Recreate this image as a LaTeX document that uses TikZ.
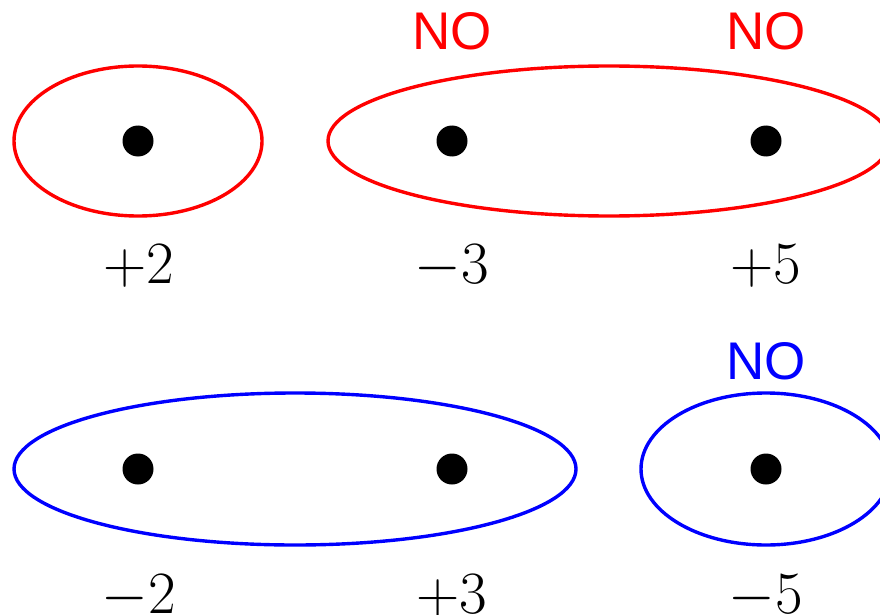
\RequirePackage{fix-cm}
\documentclass[tikz,border=0pt]{standalone}
\usepackage{fontspec}
\newfontfamily\nofont{Liberation Sans}
\begin{document}
\begin{tikzpicture}[x=1pt,y=-1pt,
  dotnode/.style={circle,fill=black,inner sep=0pt,minimum size=31pt},
  lbl/.style={anchor=base,inner sep=0pt,font=\fontsize{60}{64}\selectfont},
  nolbl/.style={anchor=base,inner sep=0pt,font=\fontsize{53}{60}\selectfont\nofont},
  ring/.style={line width=3.4pt}]
\useasboundingbox (0,0) rectangle (880,615);
\clip (0,0) rectangle (880,615);
% top row
\node[dotnode] (a1) at (138,141) {};
\node[dotnode] (a2) at (452,141) {};
\node[dotnode] (a3) at (766,141) {};
\draw[ring,red] (138,141) ellipse [x radius=124, y radius=75];
\draw[ring,red] (609,141) ellipse [x radius=281, y radius=75];
\node[lbl] (la1) at (139,283) {$+2$};
\node[lbl] (la2) at (452,283) {$-3$};
\node[lbl] (la3) at (766,283) {$+5$};
\node[nolbl,red] (na2) at (452,50) {NO};
\node[nolbl,red] (na3) at (766,50) {NO};
% bottom row
\node[dotnode] (b1) at (138,469) {};
\node[dotnode] (b2) at (452,469) {};
\node[dotnode] (b3) at (766,469) {};
\draw[ring,blue] (295,469) ellipse [x radius=281, y radius=76];
\draw[ring,blue] (766,469) ellipse [x radius=125, y radius=76];
\node[lbl] (lb1) at (139,613) {$-2$};
\node[lbl] (lb2) at (452,613) {$+3$};
\node[lbl] (lb3) at (766,613) {$-5$};
\node[nolbl,blue] (nb3) at (766,379) {NO};
\end{tikzpicture}
\end{document}
